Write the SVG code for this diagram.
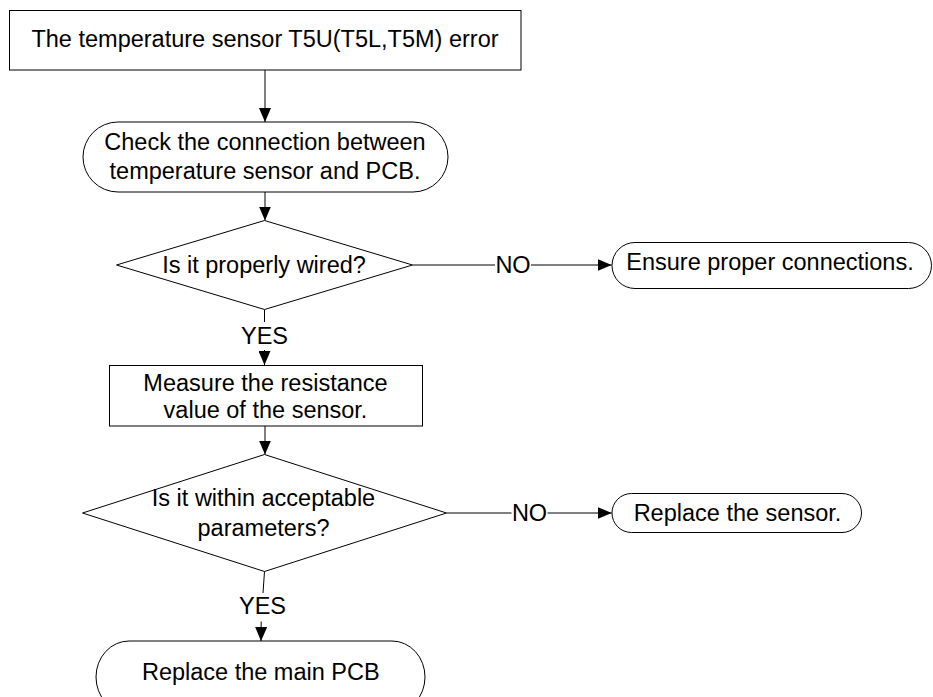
<svg xmlns="http://www.w3.org/2000/svg" width="933" height="697" viewBox="0 0 933 697">
<defs>
<marker id="arr" markerWidth="14" markerHeight="12" refX="14" refY="6" orient="auto" markerUnits="userSpaceOnUse">
<path d="M0,0 L14,6 L0,12 Z" fill="#000"/>
</marker>
<style>
.s{fill:#fff;stroke:#000;stroke-width:1}
.t{font-family:"Liberation Sans",Arial,sans-serif;font-size:23.5px;fill:#000;text-anchor:middle}
.c{fill:none;stroke:#000;stroke-width:1}
</style>
</defs>
<rect width="933" height="697" fill="#fff"/>
<g id="connectors">
<line class="c" x1="265" y1="70" x2="265" y2="122" marker-end="url(#arr)"/>
<line class="c" x1="265" y1="192" x2="265" y2="220.5" marker-end="url(#arr)"/>
<line class="c" x1="264.5" y1="309.5" x2="264.5" y2="322"/>
<text class="t" x="264.5" y="344">YES</text>
<line class="c" x1="264.5" y1="350" x2="264.5" y2="365" marker-end="url(#arr)"/>
<line class="c" x1="412.5" y1="265" x2="495" y2="265"/>
<text class="t" x="513" y="273">NO</text>
<line class="c" x1="531" y1="265" x2="611.7" y2="265" marker-end="url(#arr)"/>
<line class="c" x1="265" y1="426" x2="265" y2="454.5" marker-end="url(#arr)"/>
<line class="c" x1="446.5" y1="513" x2="511.5" y2="513"/>
<text class="t" x="529.5" y="521">NO</text>
<line class="c" x1="547.5" y1="513" x2="611.7" y2="513" marker-end="url(#arr)"/>
<line class="c" x1="264.5" y1="571.5" x2="263" y2="593"/>
<text class="t" x="262.5" y="614">YES</text>
<line class="c" x1="261.2" y1="621.5" x2="261" y2="641" marker-end="url(#arr)"/>
</g>
<g id="n1">
<rect class="s" x="9.5" y="10.5" width="511.5" height="59.5"/>
<text class="t" x="265" y="47">The temperature sensor T5U(T5L,T5M) error</text>
</g>
<g id="n2">
<rect class="s" x="83" y="122" width="365" height="70" rx="35" ry="35"/>
<text class="t" x="265" y="150">Check the connection between</text>
<text class="t" x="265" y="179">temperature sensor and PCB.</text>
</g>
<g id="n3">
<polygon class="s" points="116.5,265 264.5,220.5 412.5,265 264.5,309.5"/>
<text class="t" x="264" y="273">Is it properly wired?</text>
</g>
<g id="n4">
<rect class="s" x="612" y="242.5" width="319.5" height="46" rx="23" ry="23"/>
<text class="t" x="770" y="270">Ensure proper connections.</text>
</g>
<g id="n5">
<rect class="s" x="109.5" y="365.5" width="313" height="60.5"/>
<text class="t" x="265.5" y="391">Measure the resistance</text>
<text class="t" x="265.5" y="417.5">value of the sensor.</text>
</g>
<g id="n6">
<polygon class="s" points="82.5,513 264.5,454.5 446.5,513 264.5,571.5"/>
<text class="t" x="263.5" y="506">Is it within acceptable</text>
<text class="t" x="263.5" y="536">parameters?</text>
</g>
<g id="n7">
<rect class="s" x="612" y="493.5" width="249.5" height="39" rx="19.5" ry="19.5"/>
<text class="t" x="737.5" y="520.5">Replace the sensor.</text>
</g>
<g id="n8">
<rect class="s" x="96" y="641" width="329" height="72" rx="33" ry="36"/>
<text class="t" x="260.8" y="679.5">Replace the main PCB</text>
</g>
</svg>
